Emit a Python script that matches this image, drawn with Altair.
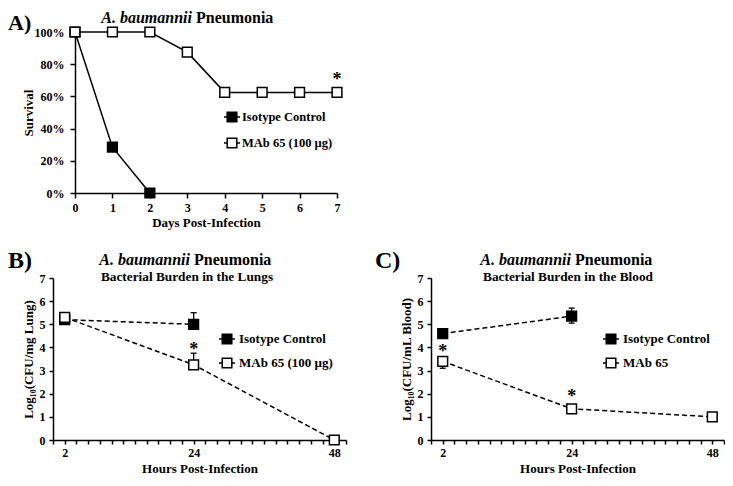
import altair as alt
import pandas as pd

FONT = "Liberation Serif"

# ---------------- Panel A: survival ----------------
a_series = ["Isotype Control", "MAb 65 (100 µg)"]
a_iso_days = [0, 1, 2]
a_iso_surv = [1.0, 0.285, 0.0]
a_mab_days = [0, 1, 2, 3, 4, 5, 6, 7]
a_mab_surv = [1.0, 1.0, 1.0, 0.875, 0.625, 0.625, 0.625, 0.625]
a_star_days = [7]
a_star_surv = [0.72]
a_x_ticks = [0, 1, 2, 3, 4, 5, 6, 7]
a_y_ticks = [0, 0.2, 0.4, 0.6, 0.8, 1.0]

# ---------------- Panel B: lungs ----------------
b_series = ["Isotype Control", "MAb 65 (100 µg)"]
b_iso_hours = [2, 24]
b_iso_log = [5.2, 5.0]
b_iso_lo = [5.2, 5.0]
b_iso_hi = [5.2, 5.5]
b_mab_hours = [2, 24, 48]
b_mab_log = [5.3, 3.25, 0.0]
b_mab_lo = [5.3, 3.25, 0.0]
b_mab_hi = [5.3, 3.75, 0.0]
b_star_hours = [24]
b_star_log = [4.0]

# ---------------- Panel C: blood ----------------
c_series = ["Isotype Control", "MAb 65"]
c_iso_hours = [2, 24]
c_iso_log = [4.6, 5.35]
c_iso_lo = [4.6, 5.05]
c_iso_hi = [4.6, 5.7]
c_mab_hours = [2, 24, 48]
c_mab_log = [3.4, 1.35, 1.0]
c_mab_lo = [3.1, 1.2, 1.0]
c_mab_hi = [3.4, 1.35, 1.0]
c_star_hours = [2, 24]
c_star_log = [3.95, 1.97]

hour_ticks = list(range(0, 51, 2))
log_ticks = [0, 1, 2, 3, 4, 5, 6, 7]

LEG_PATH = "M-1,0H-0.6M0.6,0H1M-0.6,-0.6H0.6V0.6H-0.6Z"
STAR_DY = 3


def series_df(names, xs_list, ys_list):
    rows = []
    for n, xs, ys in zip(names, xs_list, ys_list):
        for x, y in zip(xs, ys):
            rows.append({"series": n, "x": x, "y": y})
    return pd.DataFrame(rows)


def err_dfs(xs_list, val_list, lo_list, hi_list):
    bars, caps = [], []
    for xs, vs, los, his in zip(xs_list, val_list, lo_list, hi_list):
        for x, v, lo, hi in zip(xs, vs, los, his):
            if hi > lo:
                bars.append({"x": x, "lo": lo, "hi": hi})
            if lo < v:
                caps.append({"x": x, "c": lo})
            if hi > v:
                caps.append({"x": x, "c": hi})
    return pd.DataFrame(bars), pd.DataFrame(caps)


def text_layer(txt, x, y, size, style="normal", align="left"):
    return alt.Chart(pd.DataFrame({"t": [txt]})).mark_text(
        font=FONT, fontSize=size, fontWeight="bold", fontStyle=style,
        align=align, baseline="alphabetic", color="black"
    ).encode(x=alt.value(x), y=alt.value(y), text="t:N")


def legend(x, y, row_pad, size, label_offset):
    return alt.Legend(
        orient="none", legendX=x, legendY=y, direction="vertical", title=None,
        symbolType=LEG_PATH, symbolSize=256, symbolStrokeColor="black",
        symbolStrokeWidth=1.5, labelFont=FONT, labelFontSize=size,
        labelFontWeight="bold", labelColor="black", rowPadding=row_pad,
        labelOffset=label_offset, padding=0,
    )


# ---------------- build panel A ----------------
# The view of panel A starts where panel B's does; its plot is shifted right by A_SHIFT.
A_SHIFT = 22
A_W, A_H = 262, 161
dfA = series_df(a_series, [a_iso_days, a_mab_days], [a_iso_surv, a_mab_surv])
starA = pd.DataFrame({"x": a_star_days, "y": a_star_surv})
xA = alt.X("x:Q", scale=alt.Scale(domain=[0, 7], nice=False, zero=False,
                                  range=[A_SHIFT, A_SHIFT + A_W]),
           axis=alt.Axis(values=a_x_ticks, format="d", tickSize=5, labelPadding=4,
                         title="Days Post-Infection", titleX=A_SHIFT + A_W / 2, titleY=33,
                         titleBaseline="alphabetic", titleAlign="center"))
yA = alt.Y("y:Q", scale=alt.Scale(domain=[0, 1], nice=False),
           axis=alt.Axis(values=a_y_ticks, format=".0%", tickSize=5, labelPadding=6,
                         offset=-A_SHIFT,
                         title="Survival", titleX=-47, titleY=A_H / 2, titleAngle=270,
                         titleBaseline="middle", titleAlign="center"))
linesA = alt.Chart(dfA).mark_line(color="black", strokeWidth=1.5).encode(
    x=xA, y=yA, detail="series:N")
ptsA = alt.Chart(dfA).mark_point(shape="square", size=95, stroke="black", strokeWidth=1.5,
                                 opacity=1, fillOpacity=1).encode(
    x=xA, y=yA,
    fill=alt.Fill("series:N", scale=alt.Scale(domain=a_series, range=["black", "white"]),
                  legend=legend(A_SHIFT + 148, 76, 9, 12.5, 1)))
starsA = alt.Chart(starA).mark_text(text="*", font=FONT, fontSize=18, fontWeight="bold",
                                    dy=STAR_DY, color="black").encode(x=xA, y=yA)
chartA = alt.layer(
    linesA, ptsA, starsA,
    text_layer("A)", -45, -2, 22),
    text_layer("A. baumannii", A_SHIFT + 117, -9, 16, style="italic", align="right"),
    text_layer("Pneumonia", A_SHIFT + 121, -9, 16),
).properties(width=A_SHIFT + A_W, height=A_H)


# ---------------- bottom panels ----------------
P_W, P_H = 293, 162


def burden_panel(names, hours, logs, los, his, star_h, star_v, label, subtitle, ytitle,
                 leg_x, leg_y, label_x, title_x):
    df = series_df(names, hours, logs)
    bars, caps = err_dfs(hours, logs, los, his)
    stars = pd.DataFrame({"x": star_h, "y": star_v})
    xscale = alt.Scale(domain=[0, 50], nice=False, zero=False)
    yscale = alt.Scale(domain=[0, 7], nice=False)
    xaxis = alt.Axis(values=hour_ticks, tickSize=4, labelPadding=3,
                     labelExpr="(datum.value == 2 || datum.value == 24 || datum.value == 48) ? datum.label : ''",
                     title="Hours Post-Infection", titleY=32,
                     titleBaseline="alphabetic", titleAlign="center", titleX=P_W / 2)
    yaxis = alt.Axis(values=log_ticks, format="d", tickSize=4, labelPadding=4,
                     title=ytitle, titleX=-25, titleY=P_H / 2, titleAngle=270,
                     titleBaseline="middle", titleAlign="center")
    x = alt.X("x:Q", scale=xscale, axis=xaxis)
    y = alt.Y("y:Q", scale=yscale, axis=yaxis)
    lines = alt.Chart(df).mark_line(color="black", strokeWidth=1.5, strokeDash=[5, 3]).encode(
        x=x, y=y, detail="series:N")
    errs = alt.Chart(bars).mark_rule(color="black", strokeWidth=1.3).encode(
        x=x, y=alt.Y("lo:Q", scale=yscale, axis=yaxis), y2="hi:Q")
    capl = alt.Chart(caps).mark_tick(orient="horizontal", size=6, thickness=1.3,
                                      color="black", opacity=1).encode(
        x=x, y=alt.Y("c:Q", scale=yscale, axis=yaxis))
    pts = alt.Chart(df).mark_point(shape="square", size=95, stroke="black", strokeWidth=1.5,
                                   opacity=1, fillOpacity=1).encode(
        x=x, y=y,
        fill=alt.Fill("series:N", scale=alt.Scale(domain=names, range=["black", "white"]),
                      legend=legend(leg_x, leg_y, 7, 13, 3)))
    st = alt.Chart(stars).mark_text(text="*", font=FONT, fontSize=18, fontWeight="bold",
                                    dy=STAR_DY, color="black").encode(x=x, y=y)
    return alt.layer(
        lines, errs, capl, pts, st,
        text_layer(label, label_x, -10, 24),
        text_layer("A. baumannii", title_x, -13, 16, style="italic", align="right"),
        text_layer("Pneumonia", title_x + 4, -13, 16),
        text_layer(subtitle, title_x - 3, 3, 13.3, align="center"),
    ).properties(width=P_W, height=P_H)


chartB = burden_panel(b_series, [b_iso_hours, b_mab_hours], [b_iso_log, b_mab_log],
                      [b_iso_lo, b_mab_lo], [b_iso_hi, b_mab_hi], b_star_hours, b_star_log,
                      "B)", "Bacterial Burden in the Lungs", "Log₁₀(CFU/mg Lung)",
                      165, 52, -45, 137)
chartC = burden_panel(c_series, [c_iso_hours, c_mab_hours], [c_iso_log, c_mab_log],
                      [c_iso_lo, c_mab_lo], [c_iso_hi, c_mab_hi], c_star_hours, c_star_log,
                      "C)", "Bacterial Burden in the Blood", "Log₁₀(CFU/mL Blood)",
                      171, 52, -56, 140)

bottom = alt.hconcat(chartB, chartC, spacing=28).resolve_scale(
    fill="independent").resolve_legend(fill="independent")

chart = alt.vconcat(chartA, bottom, spacing=20).resolve_scale(
    fill="independent").resolve_legend(fill="independent").properties(
    padding={"top": 2, "left": 0, "right": 0, "bottom": 0}, background="white"
).configure_view(stroke=None).configure_axis(
    labelFont=FONT, labelFontSize=12, labelFontWeight="bold", labelColor="black",
    titleFont=FONT, titleFontSize=13, titleFontWeight="bold", titleColor="black",
    domainColor="black", domainWidth=1.5, tickColor="black", tickWidth=1.5,
    grid=False, labelFlush=False, labelOverlap=False, labelBound=False,
)

chart.save("out.html", embed_options={"renderer": "svg", "actions": False})
